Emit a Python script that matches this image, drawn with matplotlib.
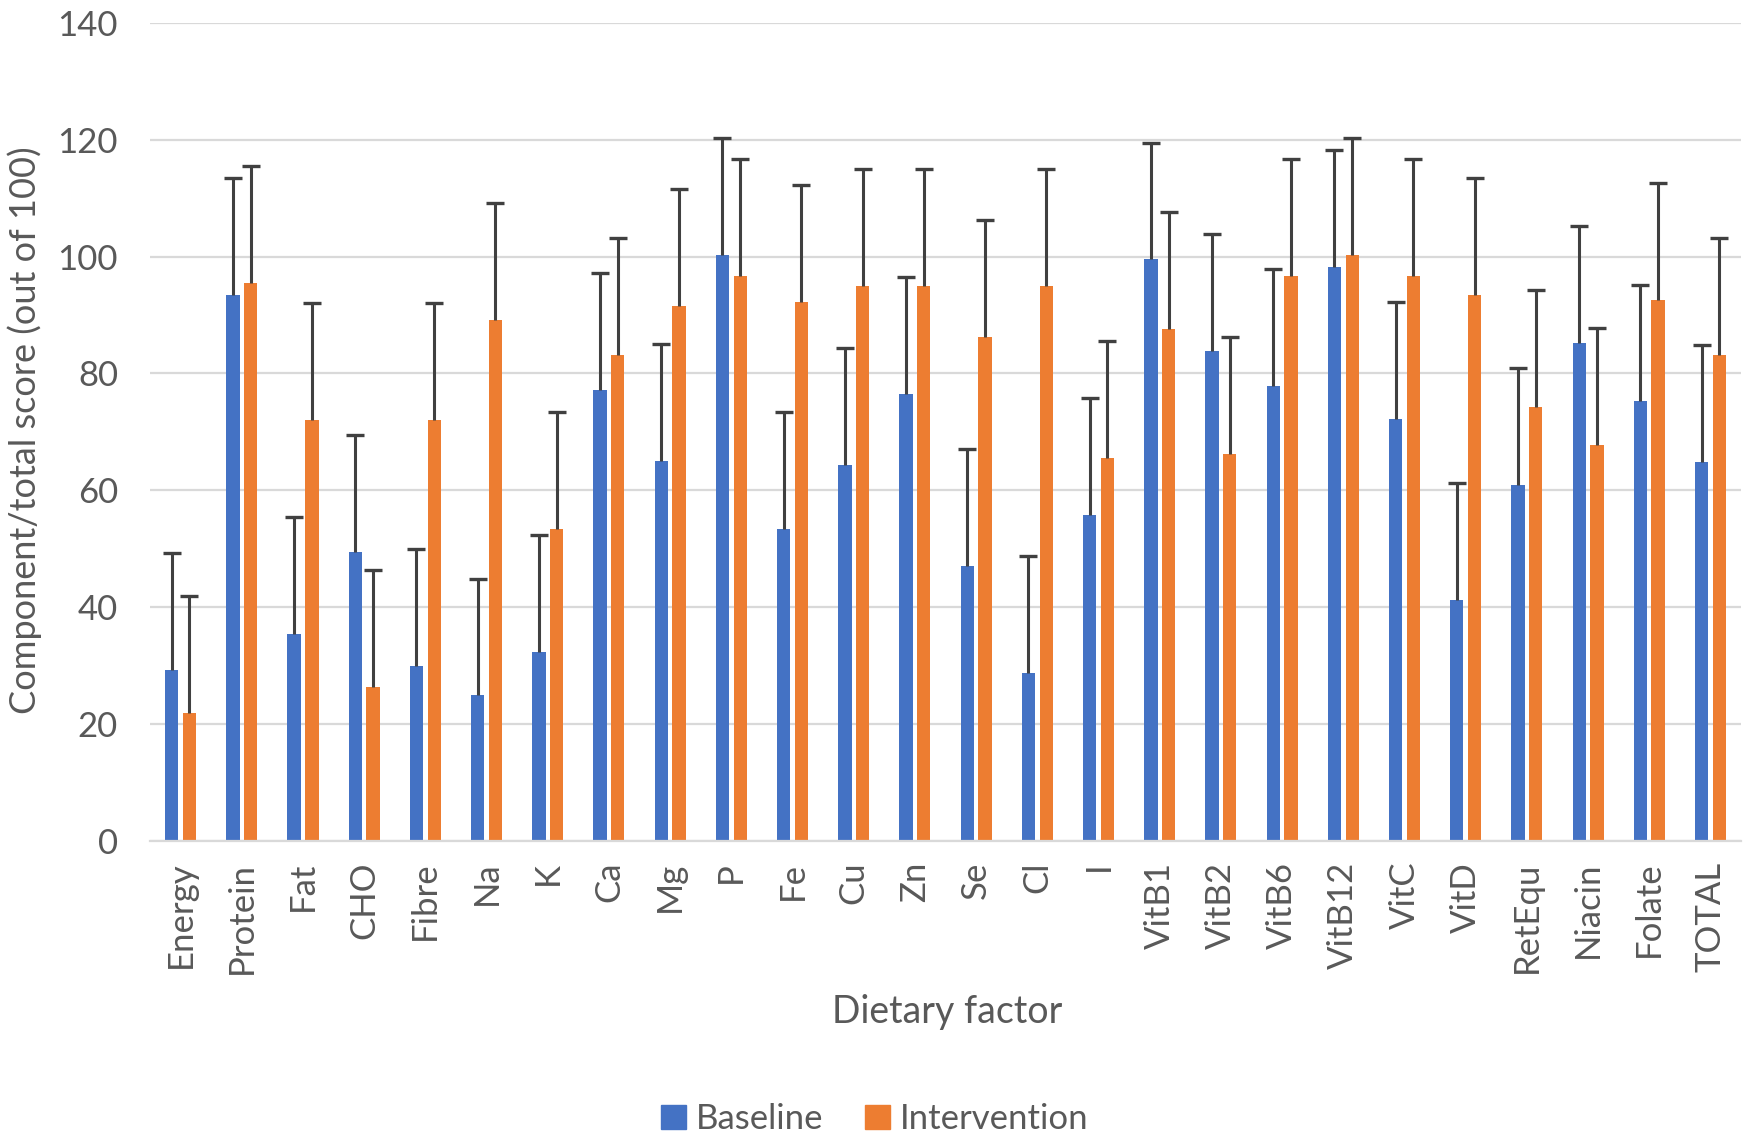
import numpy as np
import matplotlib
matplotlib.use('Agg')
import matplotlib.pyplot as plt
from matplotlib.patches import Patch

factors = ['Energy', 'Protein', 'Fat', 'CHO', 'Fibre', 'Na', 'K', 'Ca', 'Mg', 'P',
           'Fe', 'Cu', 'Zn', 'Se', 'Cl', 'I', 'VitB1', 'VitB2', 'VitB6', 'VitB12',
           'VitC', 'VitD', 'RetEqu', 'Niacin', 'Folate', 'TOTAL']
baseline = [29.3, 93.5, 35.4, 49.4, 30.0, 24.9, 32.3, 77.2, 65.1, 100.2, 53.4, 64.3, 76.5,
            47.0, 28.7, 55.8, 99.5, 83.9, 77.8, 98.2, 72.2, 41.3, 60.9, 85.2, 75.2, 64.9]
intervention = [21.9, 95.5, 72.1, 26.3, 72.1, 89.2, 53.4, 83.2, 91.6, 96.6, 92.3, 94.9, 94.9,
                86.2, 94.9, 65.6, 87.6, 66.2, 96.6, 100.2, 96.6, 93.5, 74.3, 67.8, 92.6, 83.2]
err_value = 20  # fixed-value (plus only) error bars

blue = '#4472C4'
orange = '#ED7D31'
grey_txt = '#595959'
grid_c = '#D9D9D9'
plt.rcParams['font.family'] = ['Lato', 'DejaVu Sans']

fig = plt.figure(figsize=(17.5, 11.35), dpi=100)
ax = fig.add_axes([0.0857, 0.259, 0.9092, 0.721])

x = np.arange(len(factors))
w = 0.218
off = 0.145
for vals, col, sh in [(baseline, blue, -off), (intervention, orange, off)]:
    vals = np.array(vals)
    ax.bar(x + sh, vals, w, color=col, zorder=2)
    ax.errorbar(x + sh, vals, yerr=[np.zeros(len(vals)), np.full(len(vals), err_value)],
                fmt='none', ecolor='#404040', elinewidth=2.2, capsize=0, zorder=3)
    ax.plot(x + sh, vals + err_value, linestyle='none', marker='_', markersize=13,
            markeredgewidth=2.4, color='#404040', zorder=3)

ax.set_ylim(0, 140)
ax.set_xlim(-0.5, len(factors) - 0.5)
ax.set_yticks(range(0, 141, 20))
ax.yaxis.grid(True, color=grid_c, linewidth=1.6, zorder=0)
ax.set_axisbelow(True)
for s in ['top', 'right', 'left']:
    ax.spines[s].set_visible(False)
ax.spines['bottom'].set_color(grid_c)
ax.spines['bottom'].set_linewidth(1.6)
ax.set_xticks(x)
ax.set_xticklabels(factors, rotation=90)
ax.tick_params(axis='both', length=0, labelsize=25, labelcolor=grey_txt)
ax.tick_params(axis='x', pad=15)
ax.tick_params(axis='y', pad=23)

fig.text(0.014, 0.621, 'Component/total score (out of 100)', rotation=90,
         ha='center', va='center', fontsize=26, color=grey_txt)
fig.text(0.541, 0.108, 'Dietary factor', ha='center', va='center', fontsize=27, color=grey_txt)

handles = [Patch(color=blue, label='Baseline'), Patch(color=orange, label='Intervention')]
fig.legend(handles=handles, loc='center', bbox_to_anchor=(0.5, 0.0138), ncol=2, frameon=False,
           fontsize=25, labelcolor=grey_txt, handlelength=0.7, handleheight=0.7,
           handletextpad=0.3, columnspacing=1.2)

fig.savefig('out.png', dpi=100)
